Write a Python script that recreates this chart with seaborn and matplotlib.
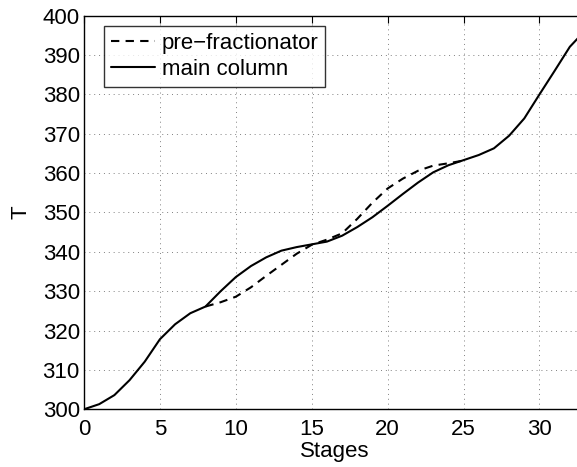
import numpy as np
import pandas as pd
import matplotlib
matplotlib.use("Agg")
import matplotlib.pyplot as plt
import seaborn as sns

# temperature profiles
stages_main = list(range(0, 34))
T_main = [300.0, 301.3, 303.6, 307.4, 312.1, 317.8, 321.6, 324.4, 326.1, 330.0,
          333.6, 336.4, 338.6, 340.3, 341.2, 341.9, 342.6, 344.1, 346.3, 348.8,
          351.7, 354.7, 357.6, 360.2, 362.0, 363.3, 364.6, 366.3, 369.5, 373.9,
          380.0, 386.0, 392.1, 396.2]
stages_pre = list(range(8, 26))
T_pre = [326.1, 327.2, 328.6, 331.0, 333.9, 336.7, 339.5, 341.8, 343.1, 344.7,
         348.4, 352.5, 356.1, 358.6, 360.6, 361.9, 362.5, 363.2]

sns.set_style("white")
plt.rcParams['font.family'] = ['Liberation Sans', 'DejaVu Sans']
plt.rcParams['text.color'] = 'black'
plt.rcParams['axes.labelcolor'] = 'black'

df_pre = pd.DataFrame({"Stages": stages_pre, "T": T_pre})
df_main = pd.DataFrame({"Stages": stages_main, "T": T_main})

fig = plt.figure(figsize=(5.77, 4.67), dpi=100)
ax = fig.add_axes([0.1456, 0.1236, 0.8683, 0.8428])

sns.lineplot(data=df_pre, x="Stages", y="T", ax=ax, color="black", lw=1.5,
             linestyle=(0, (4, 3)), label="pre\u2212fractionator")
sns.lineplot(data=df_main, x="Stages", y="T", ax=ax, color="black", lw=1.5,
             label="main column")

ax.set_xlim(0, 33)
ax.set_ylim(300, 400)
ax.set_xticks([0, 5, 10, 15, 20, 25, 30])
ax.set_yticks(np.arange(300, 401, 10))
ax.grid(True, linestyle=(0, (1, 4)), color="0.5", lw=0.7)
for s in ax.spines.values():
    s.set_linewidth(1.0)
    s.set_color("black")
ax.tick_params(direction="in", length=5, width=0.8, top=True, right=True,
               labelsize=16, colors="black")
ax.tick_params(axis="x", pad=7)
ax.tick_params(axis="y", pad=3)
ax.set_xlabel("Stages", fontsize=16, labelpad=1)
ax.set_ylabel("T", fontsize=16, labelpad=8)

leg = ax.legend(loc="upper left", bbox_to_anchor=(0.04, 0.974), borderaxespad=0,
                fontsize=16, frameon=True, fancybox=False, edgecolor="black",
                handlelength=2.0, borderpad=0.3, labelspacing=0.25,
                handletextpad=0.3)
leg.get_frame().set_linewidth(1.0)

plt.savefig("out.png", dpi=100)
